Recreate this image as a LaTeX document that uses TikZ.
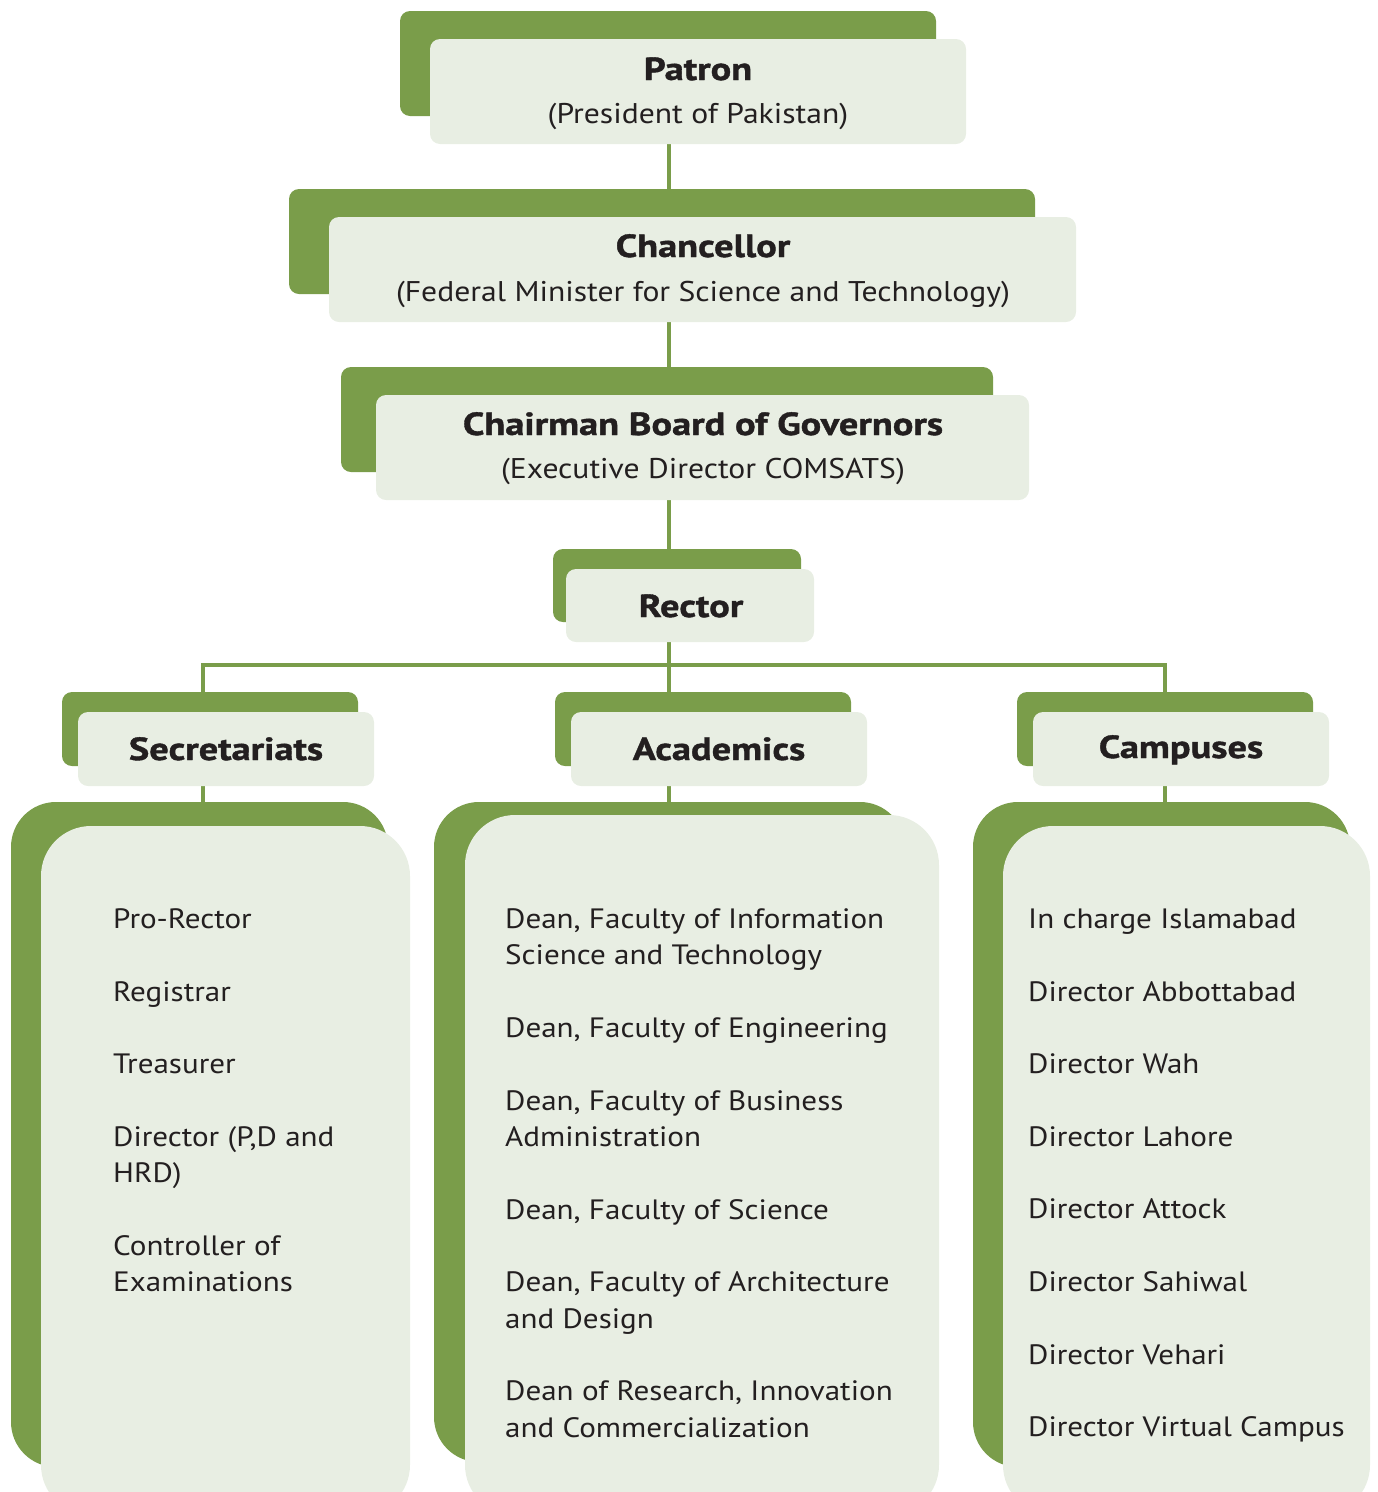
\documentclass[tikz,border=0pt]{standalone}
\usepackage{fontspec}
\setmainfont{PT Sans}
\newfontfamily\bodyfont{PT Sans}[FakeStretch=1.11]
\newfontfamily\headfont{PT Sans}[FakeStretch=1.2,FakeBold=1.2]
\usetikzlibrary{backgrounds}
\definecolor{dgreen}{RGB}{122,157,74}
\definecolor{lgreen}{RGB}{232,238,227}
\definecolor{ink}{RGB}{35,31,32}
\begin{document}
\begin{tikzpicture}[x=1pt,y=-1pt,
  box/.style={rounded corners=10pt, inner sep=0pt, outer sep=0pt, anchor=north west, draw=none},
  backbox/.style={box, fill=dgreen},
  frontbox/.style={box, fill=lgreen},
  bigback/.style={backbox, rounded corners=45pt},
  bigfront/.style={frontbox, rounded corners=50pt},
  conn/.style={draw=dgreen, line width=3.5pt},
  title/.style={font=\headfont\bfseries\fontsize{32}{36}\selectfont, text=ink, anchor=base, inner sep=0pt},
  sub/.style={font=\bodyfont\fontsize{28.5}{32}\selectfont, text=ink, anchor=base, inner sep=0pt},
  item/.style={font=\bodyfont\fontsize{28}{36}\selectfont, text=ink, anchor=base west, inner sep=0pt}]
\useasboundingbox (0,0) rectangle (1377,1492);
\clip (0,0) rectangle (1377,1492);

% header boxes
\node[backbox, minimum width=536pt, minimum height=105pt] (patB) at (400,11) {};
\node[frontbox, minimum width=536pt, minimum height=105pt] (patF) at (430,39) {};
\node[title] (patT) at (698,80) {Patron};
\node[sub] (patS) at (698,123) {(President of Pakistan)};

\node[backbox, minimum width=746pt, minimum height=105pt] (chaB) at (289,189) {};
\node[frontbox, minimum width=747pt, minimum height=105pt] (chaF) at (329,217) {};
\node[title] (chaT) at (703,257) {Chancellor};
\node[sub] (chaS) at (703,301) {(Federal Minister for Science and Technology)};

\node[backbox, minimum width=652pt, minimum height=105pt] (bogB) at (341,367) {};
\node[frontbox, minimum width=653pt, minimum height=105pt] (bogF) at (376,395) {};
\node[title] (bogT) at (703,435) {Chairman Board of Governors};
\node[sub] (bogS) at (703,478) {(Executive Director COMSATS)};

\node[backbox, minimum width=248pt, minimum height=73pt] (recB) at (553,549) {};
\node[frontbox, minimum width=248pt, minimum height=73pt] (recF) at (566,569) {};
\node[title] (recT) at (691,617) {Rector};

\node[backbox, minimum width=296pt, minimum height=74pt] (secB) at (62,692) {};
\node[frontbox, minimum width=296pt, minimum height=74pt] (secF) at (78,712) {};
\node[title] (secT) at (226,760) {Secretariats};

\node[backbox, minimum width=296pt, minimum height=74pt] (acaB) at (555,692) {};
\node[frontbox, minimum width=296pt, minimum height=74pt] (acaF) at (571,712) {};
\node[title] (acaT) at (719,760) {Academics};

\node[backbox, minimum width=296pt, minimum height=74pt] (camB) at (1017,692) {};
\node[frontbox, minimum width=296pt, minimum height=74pt] (camF) at (1033,712) {};
\node[title] (camT) at (1181,758) {Campuses};

% big list boxes
\node[bigback, minimum width=377pt, minimum height=665pt] (secLB) at (11,802) {};
\node[bigfront, minimum width=369pt, minimum height=689pt] (secLF) at (41,826) {};
\node[bigback, minimum width=471pt, minimum height=660pt] (acaLB) at (434,802) {};
\node[bigfront, minimum width=474pt, minimum height=700pt] (acaLF) at (465,815) {};
\node[bigback, minimum width=377pt, minimum height=665pt] (camLB) at (973,802) {};
\node[bigfront, minimum width=367pt, minimum height=689pt] (camLF) at (1003,826) {};

% list texts
\node[item] (s1) at (113,928) {Pro-Rector};
\node[item] (s2) at (113,1001) {Registrar};
\node[item] (s3) at (113,1073) {Treasurer};
\node[item] (s4a) at (113,1146) {Director (P,D and};
\node[item] (s4b) at (113,1182) {HRD)};
\node[item] (s5a) at (113,1255) {Controller of};
\node[item] (s5b) at (113,1291) {Examinations};

\node[item] (a1a) at (505,928) {Dean, Faculty of Information};
\node[item] (a1b) at (505,964) {Science and Technology};
\node[item] (a2) at (505,1037) {Dean, Faculty of Engineering};
\node[item] (a3a) at (505,1110) {Dean, Faculty of Business};
\node[item] (a3b) at (505,1146) {Administration};
\node[item] (a4) at (505,1219) {Dean, Faculty of Science};
\node[item] (a5a) at (505,1291) {Dean, Faculty of Architecture};
\node[item] (a5b) at (505,1328) {and Design};
\node[item] (a6a) at (505,1400) {Dean of Research, Innovation};
\node[item] (a6b) at (505,1437) {and Commercialization};

\node[item] (c1) at (1028,928) {In charge Islamabad};
\node[item] (c2) at (1028,1001) {Director Abbottabad};
\node[item] (c3) at (1028,1073) {Director Wah};
\node[item] (c4) at (1028,1146) {Director Lahore};
\node[item] (c5) at (1028,1218) {Director Attock};
\node[item] (c6) at (1028,1291) {Director Sahiwal};
\node[item] (c7) at (1028,1364) {Director Vehari};
\node[item] (c8) at (1028,1436) {Director Virtual Campus};

% connectors
\coordinate (spine) at (669,0);
\coordinate (bL) at (203,665);
\coordinate (bM) at (669,665);
\coordinate (bR) at (1165,665);
\begin{scope}[on background layer]
\draw[conn] (spine |- patF.south) -- (spine |- chaB.north);
\draw[conn] (spine |- chaF.south) -- (spine |- bogB.north);
\draw[conn] (spine |- bogF.south) -- (spine |- recB.north);
\draw[conn] (spine |- recF.south) -- (spine |- acaB.north);
\draw[conn] (bL |- secB.north) -- (bL) -- (bR) -- (bR |- camB.north);
\draw[conn] (bL |- secF.south) -- (bL |- secLB.north);
\draw[conn] (bM |- acaF.south) -- (bM |- acaLB.north);
\draw[conn] (bR |- camF.south) -- (bR |- camLB.north);
\end{scope}
\end{tikzpicture}
\end{document}
